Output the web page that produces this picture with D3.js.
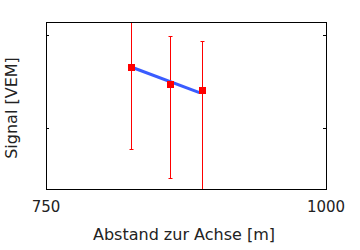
<!DOCTYPE html>
<html>
<head>
<meta charset="utf-8">
<script src="https://cdn.jsdelivr.net/npm/d3@7"></script>
<style>
  body { margin: 0; background: #fff; }
  text { font-family: "DejaVu Sans", sans-serif; }
</style>
</head>
<body>
<div id="chart"></div>
<script>
// Messpunkte
const distances = [826, 861, 889]
const signals = [1.653, 1.470, 1.405]
const errLow = [0.771, 0.462, 0.20]
const errHigh = [2.30, 1.989, 1.932]

// Fit-Linie
const fitX = [826, 887]
const fitY = [1.656, 1.380]

const xTicks = [750, 1000]
const yTicks = [1, 2]

const w = 360
const h = 250
const mLeft = 46, mRight = 326, mTop = 22, mBottom = 189

const svg = d3.select('#chart')
  .append('svg')
  .attr('width', w)
  .attr('height', h)

const x = d3.scaleLinear().domain([750, 1000]).range([mLeft, mRight])
const y = d3.scaleLinear().domain([1, 2]).range([128, 35])
const px = v => Math.round(x(v)) + 0.5
const py = v => Math.round(y(v)) + 0.5

svg.append('clipPath').attr('id', 'clip')
  .append('rect')
  .attr('x', mLeft).attr('y', mTop)
  .attr('width', mRight - mLeft).attr('height', mBottom - mTop)

const plot = svg.append('g').attr('clip-path', 'url(#clip)')

// error bars
const eb = plot.selectAll('g.err')
  .data(distances)
  .enter()
  .append('g')

eb.append('line')
  .attr('x1', d => px(d))
  .attr('x2', d => px(d))
  .attr('y1', (d, i) => py(errLow[i]))
  .attr('y2', (d, i) => py(errHigh[i]))
  .attr('stroke', '#ff0000')
  .attr('stroke-width', 1)

eb.append('line')
  .attr('x1', d => px(d) - 2)
  .attr('x2', d => px(d) + 2)
  .attr('y1', (d, i) => py(errLow[i]))
  .attr('y2', (d, i) => py(errLow[i]))
  .attr('stroke', '#ff0000')

eb.append('line')
  .attr('x1', d => px(d) - 2)
  .attr('x2', d => px(d) + 2)
  .attr('y1', (d, i) => py(errHigh[i]))
  .attr('y2', (d, i) => py(errHigh[i]))
  .attr('stroke', '#ff0000')

// fit line
plot.append('path')
  .datum(fitX.map((d, i) => [d, fitY[i]]))
  .attr('d', d3.line().x(d => x(d[0])).y(d => y(d[1])))
  .attr('stroke', '#3a5cff')
  .attr('stroke-width', 3)
  .attr('fill', 'none')

// points
plot.selectAll('rect.pt')
  .data(distances)
  .enter()
  .append('rect')
  .attr('x', d => px(d) - 3.5)
  .attr('y', (d, i) => py(signals[i]) - 3.5)
  .attr('width', 7)
  .attr('height', 7)
  .attr('fill', '#ff0000')

// y ticks (inside, both sides)
yTicks.forEach(t => {
  svg.append('line')
    .attr('x1', mLeft).attr('x2', mLeft + 3)
    .attr('y1', py(t)).attr('y2', py(t))
    .attr('stroke', 'black')
  svg.append('line')
    .attr('x1', mRight - 3).attr('x2', mRight)
    .attr('y1', py(t)).attr('y2', py(t))
    .attr('stroke', 'black')
})

// frame
svg.append('rect')
  .attr('x', mLeft + 0.5)
  .attr('y', mTop + 0.5)
  .attr('width', mRight - mLeft)
  .attr('height', mBottom - mTop)
  .attr('fill', 'none')
  .attr('stroke', 'black')
  .attr('stroke-width', 1)

svg.selectAll('text.xt')
  .data(xTicks)
  .enter()
  .append('text')
  .attr('x', d => x(d))
  .attr('y', 212)
  .attr('text-anchor', 'middle')
  .attr('font-size', 15)
  .attr('fill', '#222')
  .text(d => d)

svg.append('text')
  .attr('x', 184)
  .attr('y', 240)
  .attr('text-anchor', 'middle')
  .attr('font-size', 16)
  .attr('fill', '#222')
  .text('Abstand zur Achse [m]')

svg.append('text')
  .attr('transform', 'translate(17,108) rotate(-90)')
  .attr('text-anchor', 'middle')
  .attr('font-size', 16)
  .attr('fill', '#222')
  .text('Signal [VEM]')
</script>
</body>
</html>
